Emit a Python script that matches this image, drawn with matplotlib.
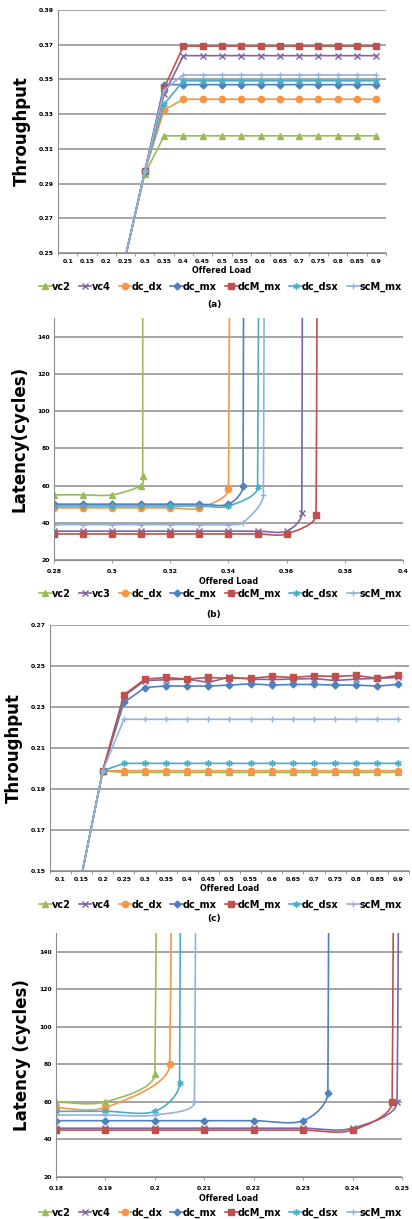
import matplotlib
matplotlib.use("Agg")
import matplotlib.pyplot as plt
import numpy as np
from matplotlib.path import Path
from matplotlib.patches import PathPatch
from matplotlib.lines import Line2D

# ---------- data ----------
loads = [0.1, 0.15, 0.2, 0.25, 0.3, 0.35, 0.4, 0.45, 0.5, 0.55, 0.6, 0.65,
         0.7, 0.75, 0.8, 0.85, 0.9]
load_labels = ["0.1", "0.15", "0.2", "0.25", "0.3", "0.35", "0.4", "0.45", "0.5",
               "0.55", "0.6", "0.65", "0.7", "0.75", "0.8", "0.85", "0.9"]

# (a) throughput
a_vc2 = [0.1, 0.15, 0.2, 0.248, 0.2955] + [0.3175] * 12
a_vc4 = [0.1, 0.15, 0.2, 0.248, 0.2970, 0.3415] + [0.3637] * 11
a_dc_dx = [0.1, 0.15, 0.2, 0.248, 0.2970, 0.3324] + [0.3386] * 11
a_dc_mx = [0.1, 0.15, 0.2, 0.248, 0.2972, 0.3470] + [0.3470] * 11
a_dcM_mx = [0.1, 0.15, 0.2, 0.248, 0.2972, 0.3450] + [0.3692] * 11
a_dc_dsx = [0.1, 0.15, 0.2, 0.248, 0.2970, 0.3357] + [0.3492] * 11
a_scM_mx = [0.1, 0.15, 0.2, 0.248, 0.2970, 0.3440] + [0.3526] * 11

# (c) throughput
c_vc2 = [0.1, 0.148, 0.1989] + [0.1981] * 14
c_vc4 = [0.1, 0.148, 0.1989, 0.2354, 0.2429, 0.2433, 0.2436, 0.2420, 0.2446, 0.2436,
         0.2434, 0.2436, 0.2439, 0.2429, 0.2436, 0.2440, 0.2444]
c_dc_dx = [0.1, 0.148, 0.1989] + [0.1989] * 14
c_dc_mx = [0.1, 0.148, 0.1989, 0.2322, 0.2395, 0.2403, 0.2402, 0.2402, 0.2407, 0.2413,
           0.2407, 0.2410, 0.2410, 0.2407, 0.2407, 0.2402, 0.2410]
c_dcM_mx = [0.1, 0.148, 0.1989, 0.2359, 0.2436, 0.2444, 0.2436, 0.2444, 0.2440, 0.2440,
            0.2449, 0.2444, 0.2452, 0.2449, 0.2454, 0.2440, 0.2454]
c_dc_dsx = [0.1, 0.148, 0.1989] + [0.2025] * 14
c_scM_mx = [0.1, 0.148, 0.1989] + [0.2240] * 14

# (b) latency, last point of each series is far above the plot (saturation)
b_vc2_x = [0.28, 0.29, 0.30, 0.31, 0.3105, 0.3108]
b_vc2_y = [55, 55, 55, 60, 65, 2500]
b_vc3_x = [0.28, 0.29, 0.30, 0.31, 0.32, 0.33, 0.34, 0.35, 0.36, 0.3652, 0.3655]
b_vc3_y = [35.5, 35.5, 35.5, 35.5, 35.5, 35.5, 35.5, 35.5, 35.5, 45, 2500]
b_dc_dx_x = [0.28, 0.29, 0.30, 0.31, 0.32, 0.33, 0.34, 0.3404]
b_dc_dx_y = [48, 48, 48, 48, 48, 48, 58, 2500]
b_dc_mx_x = [0.28, 0.29, 0.30, 0.31, 0.32, 0.33, 0.34, 0.345, 0.3454]
b_dc_mx_y = [50, 50, 50, 50, 50, 50, 50, 60, 2500]
b_dcM_mx_x = [0.28, 0.29, 0.30, 0.31, 0.32, 0.33, 0.34, 0.35, 0.36, 0.3701, 0.3705]
b_dcM_mx_y = [34, 34, 34, 34, 34, 34, 34, 34, 34, 44, 2500]
b_dc_dsx_x = [0.28, 0.29, 0.30, 0.31, 0.32, 0.33, 0.34, 0.35, 0.3504]
b_dc_dsx_y = [49, 49, 49, 49, 49, 49, 49, 59, 2500]
b_scM_mx_x = [0.28, 0.29, 0.30, 0.31, 0.32, 0.33, 0.34, 0.345, 0.352, 0.3525]
b_scM_mx_y = [39, 39, 39, 39, 39, 39, 39, 40, 55, 2500]

# (d) latency
d_vc2_x = [0.18, 0.19, 0.20, 0.2006]
d_vc2_y = [60, 60, 75, 2500]
d_vc4_x = [0.18, 0.19, 0.20, 0.21, 0.22, 0.23, 0.24, 0.249, 0.2494]
d_vc4_y = [46, 46, 46, 46, 46, 46, 46, 60, 2500]
d_dc_dx_x = [0.18, 0.19, 0.203, 0.2035]
d_dc_dx_y = [57, 57, 80, 2500]
d_dc_mx_x = [0.18, 0.19, 0.20, 0.21, 0.22, 0.23, 0.235, 0.2354]
d_dc_mx_y = [50, 50, 50, 50, 50, 50, 65, 2500]
d_dcM_mx_x = [0.18, 0.19, 0.20, 0.21, 0.22, 0.23, 0.24, 0.248, 0.2483]
d_dcM_mx_y = [45, 45, 45, 45, 45, 45, 45, 60, 2500]
d_dc_dsx_x = [0.18, 0.19, 0.20, 0.205, 0.2054]
d_dc_dsx_y = [55, 55, 55, 70, 2500]
d_scM_mx_x = [0.18, 0.19, 0.20, 0.208, 0.2083]
d_scM_mx_y = [53, 53, 53, 60, 2500]

# ---------- style ----------
GREEN = "#9BBB59"
PURPLE = "#8064A2"
ORANGE = "#F79646"
BLUE = "#4F81BD"
RED = "#C0504D"
AQUA = "#4BACC6"
LIGHT = "#95B3D7"
STAR = (6, 2, 0)

names = ["vc2", "vc4", "dc_dx", "dc_mx", "dcM_mx", "dc_dsx", "scM_mx"]
colors = [GREEN, PURPLE, ORANGE, BLUE, RED, AQUA, LIGHT]
markers = ["^", "x", "o", "D", "s", STAR, "+"]
msizes = [4.5, 4, 4.5, 3.5, 4.5, 4.5, 4.5]

GRID = "#8c8c8c"
TICK_FS = 4.4
FW = "bold"


def style_axes(ax):
    for s in ["top", "right"]:
        ax.spines[s].set_visible(False)
    ax.spines["left"].set_color(GRID)
    ax.spines["bottom"].set_color(GRID)
    ax.spines["left"].set_linewidth(0.8)
    ax.spines["bottom"].set_linewidth(0.8)
    ax.yaxis.grid(True, color=GRID, linewidth=1.1)
    ax.set_axisbelow(True)
    ax.tick_params(axis="y", length=0, labelsize=TICK_FS, pad=3)
    ax.tick_params(axis="x", labelsize=TICK_FS, pad=4)
    for lab in ax.get_xticklabels() + ax.get_yticklabels():
        lab.set_fontweight(FW)


def smooth_line(ax, xs, ys, color, lw=1.2):
    # bezier smoothing done in axes units so both axes weigh equally
    x0, x1 = ax.get_xlim()
    y0, y1 = ax.get_ylim()
    px = (np.asarray(xs, float) - x0) / (x1 - x0)
    py = (np.asarray(ys, float) - y0) / (y1 - y0)
    pts = np.column_stack([px, py])
    n = len(pts)
    tang = np.zeros_like(pts)
    for i in range(n):
        a = pts[max(i - 1, 0)]
        b = pts[min(i + 1, n - 1)]
        tang[i] = (b - a) / 2.0
    verts = [pts[0]]
    codes = [Path.MOVETO]
    for i in range(n - 1):
        seg = np.hypot(*(pts[i + 1] - pts[i]))
        t0, t1 = tang[i], tang[i + 1]
        n0, n1 = np.hypot(*t0), np.hypot(*t1)
        l0 = min(n0 / 3.0, seg / 3.0)
        l1 = min(n1 / 3.0, seg / 3.0)
        c1 = pts[i] + (t0 / n0 * l0 if n0 > 0 else 0)
        c2 = pts[i + 1] - (t1 / n1 * l1 if n1 > 0 else 0)
        verts += [c1, c2, pts[i + 1]]
        codes += [Path.CURVE4] * 3
    verts = np.array(verts)
    verts[:, 0] = verts[:, 0] * (x1 - x0) + x0
    verts[:, 1] = verts[:, 1] * (y1 - y0) + y0
    ax.add_patch(PathPatch(Path(verts, codes), fill=False, edgecolor=color,
                           linewidth=lw, transform=ax.transData, clip_on=True))


def throughput_panel(ax, series, ylim, yticks):
    idx = np.arange(len(loads))
    for ys, c, m, ms in zip(series, colors, markers, msizes):
        ax.plot(idx, ys, color=c, marker=m, markersize=ms, linewidth=1.2,
                markeredgewidth=1.0)
    ax.set_xlim(-0.5, len(loads) - 0.5)
    ax.set_ylim(*ylim)
    ax.set_yticks(yticks)
    ax.set_yticklabels([f"{v:g}" for v in yticks])
    ax.set_xticks(idx)
    ax.set_xticklabels(load_labels)
    ax.set_xticks(np.arange(len(loads) + 1) - 0.5, minor=True)
    ax.tick_params(axis="x", which="major", length=0)
    ax.tick_params(axis="x", which="minor", length=2.5, color=GRID, width=0.6)
    style_axes(ax)
    ax.set_ylabel("Throughput", fontsize=12, fontweight="heavy", labelpad=6)
    ax.set_xlabel("Offered Load", fontsize=5.8, fontweight="bold", labelpad=2)


def latency_panel(ax, xs_list, ys_list, xlim, xticks, ylabel):
    ax.set_xlim(*xlim)
    ax.set_ylim(20, 150)
    ax.set_yticks([20, 40, 60, 80, 100, 120, 140])
    ax.set_xticks(xticks)
    ax.set_xticklabels([f"{v:g}" for v in xticks])
    for xs, ys, c, m, ms in zip(xs_list, ys_list, colors, markers, msizes):
        smooth_line(ax, xs, ys, c)
        ax.plot(xs[:-1], ys[:-1], linestyle="none", color=c, marker=m,
                markersize=ms, markeredgewidth=1.0)
    ax.tick_params(axis="x", length=2.5, color=GRID, width=0.6)
    style_axes(ax)
    ax.set_ylabel(ylabel, fontsize=12, fontweight="heavy", labelpad=6)
    ax.set_xlabel("Offered Load", fontsize=5.8, fontweight="bold", labelpad=2)


def legend_row(fig, ypix, labels):
    handles = [Line2D([], [], color=c, marker=m, markersize=ms, linewidth=1.2,
                      markeredgewidth=1.0)
               for c, m, ms in zip(colors, markers, msizes)]
    fig.legend(handles, labels, loc="center", ncol=7, frameon=False,
               bbox_to_anchor=(0.535, 1 - ypix / H), handlelength=1.3,
               handletextpad=0.0, columnspacing=0.85, borderaxespad=0,
               prop={"size": 7, "weight": "bold"})


W, H = 412, 1219
fig = plt.figure(figsize=(W / 100, H / 100), dpi=100)


def add_axes(left, right, top, bottom):
    return fig.add_axes([left / W, 1 - bottom / H, (right - left) / W, (bottom - top) / H])


# (a)
ax_a = add_axes(58, 386, 10, 253)
throughput_panel(ax_a, [a_vc2, a_vc4, a_dc_dx, a_dc_mx, a_dcM_mx, a_dc_dsx, a_scM_mx],
                 (0.25, 0.39), [0.25, 0.27, 0.29, 0.31, 0.33, 0.35, 0.37, 0.39])
legend_row(fig, 287, names)
fig.text(214 / W, 1 - 304 / H, "(a)", ha="center", va="center",
         fontsize=6.5, fontweight="bold")

# (b)
ax_b = add_axes(54, 403, 318, 560)
latency_panel(ax_b,
              [b_vc2_x, b_vc3_x, b_dc_dx_x, b_dc_mx_x, b_dcM_mx_x, b_dc_dsx_x, b_scM_mx_x],
              [b_vc2_y, b_vc3_y, b_dc_dx_y, b_dc_mx_y, b_dcM_mx_y, b_dc_dsx_y, b_scM_mx_y],
              (0.28, 0.4), [0.28, 0.3, 0.32, 0.34, 0.36, 0.38, 0.4], "Latency(cycles)")
legend_row(fig, 594, ["vc2", "vc3", "dc_dx", "dc_mx", "dcM_mx", "dc_dsx", "scM_mx"])
fig.text(214 / W, 1 - 614 / H, "(b)", ha="center", va="center",
         fontsize=6.5, fontweight="bold")

# (c)
ax_c = add_axes(50, 409, 625, 871)
throughput_panel(ax_c, [c_vc2, c_vc4, c_dc_dx, c_dc_mx, c_dcM_mx, c_dc_dsx, c_scM_mx],
                 (0.15, 0.27), [0.15, 0.17, 0.19, 0.21, 0.23, 0.25, 0.27])
legend_row(fig, 905, names)
fig.text(214 / W, 1 - 919 / H, "(c)", ha="center", va="center",
         fontsize=6.5, fontweight="bold")

# (d)
ax_d = add_axes(56, 402, 933, 1177)
latency_panel(ax_d,
              [d_vc2_x, d_vc4_x, d_dc_dx_x, d_dc_mx_x, d_dcM_mx_x, d_dc_dsx_x, d_scM_mx_x],
              [d_vc2_y, d_vc4_y, d_dc_dx_y, d_dc_mx_y, d_dcM_mx_y, d_dc_dsx_y, d_scM_mx_y],
              (0.18, 0.25), [0.18, 0.19, 0.2, 0.21, 0.22, 0.23, 0.24, 0.25],
              "Latency (cycles)")
legend_row(fig, 1213, names)

fig.savefig("out.png", dpi=100)
